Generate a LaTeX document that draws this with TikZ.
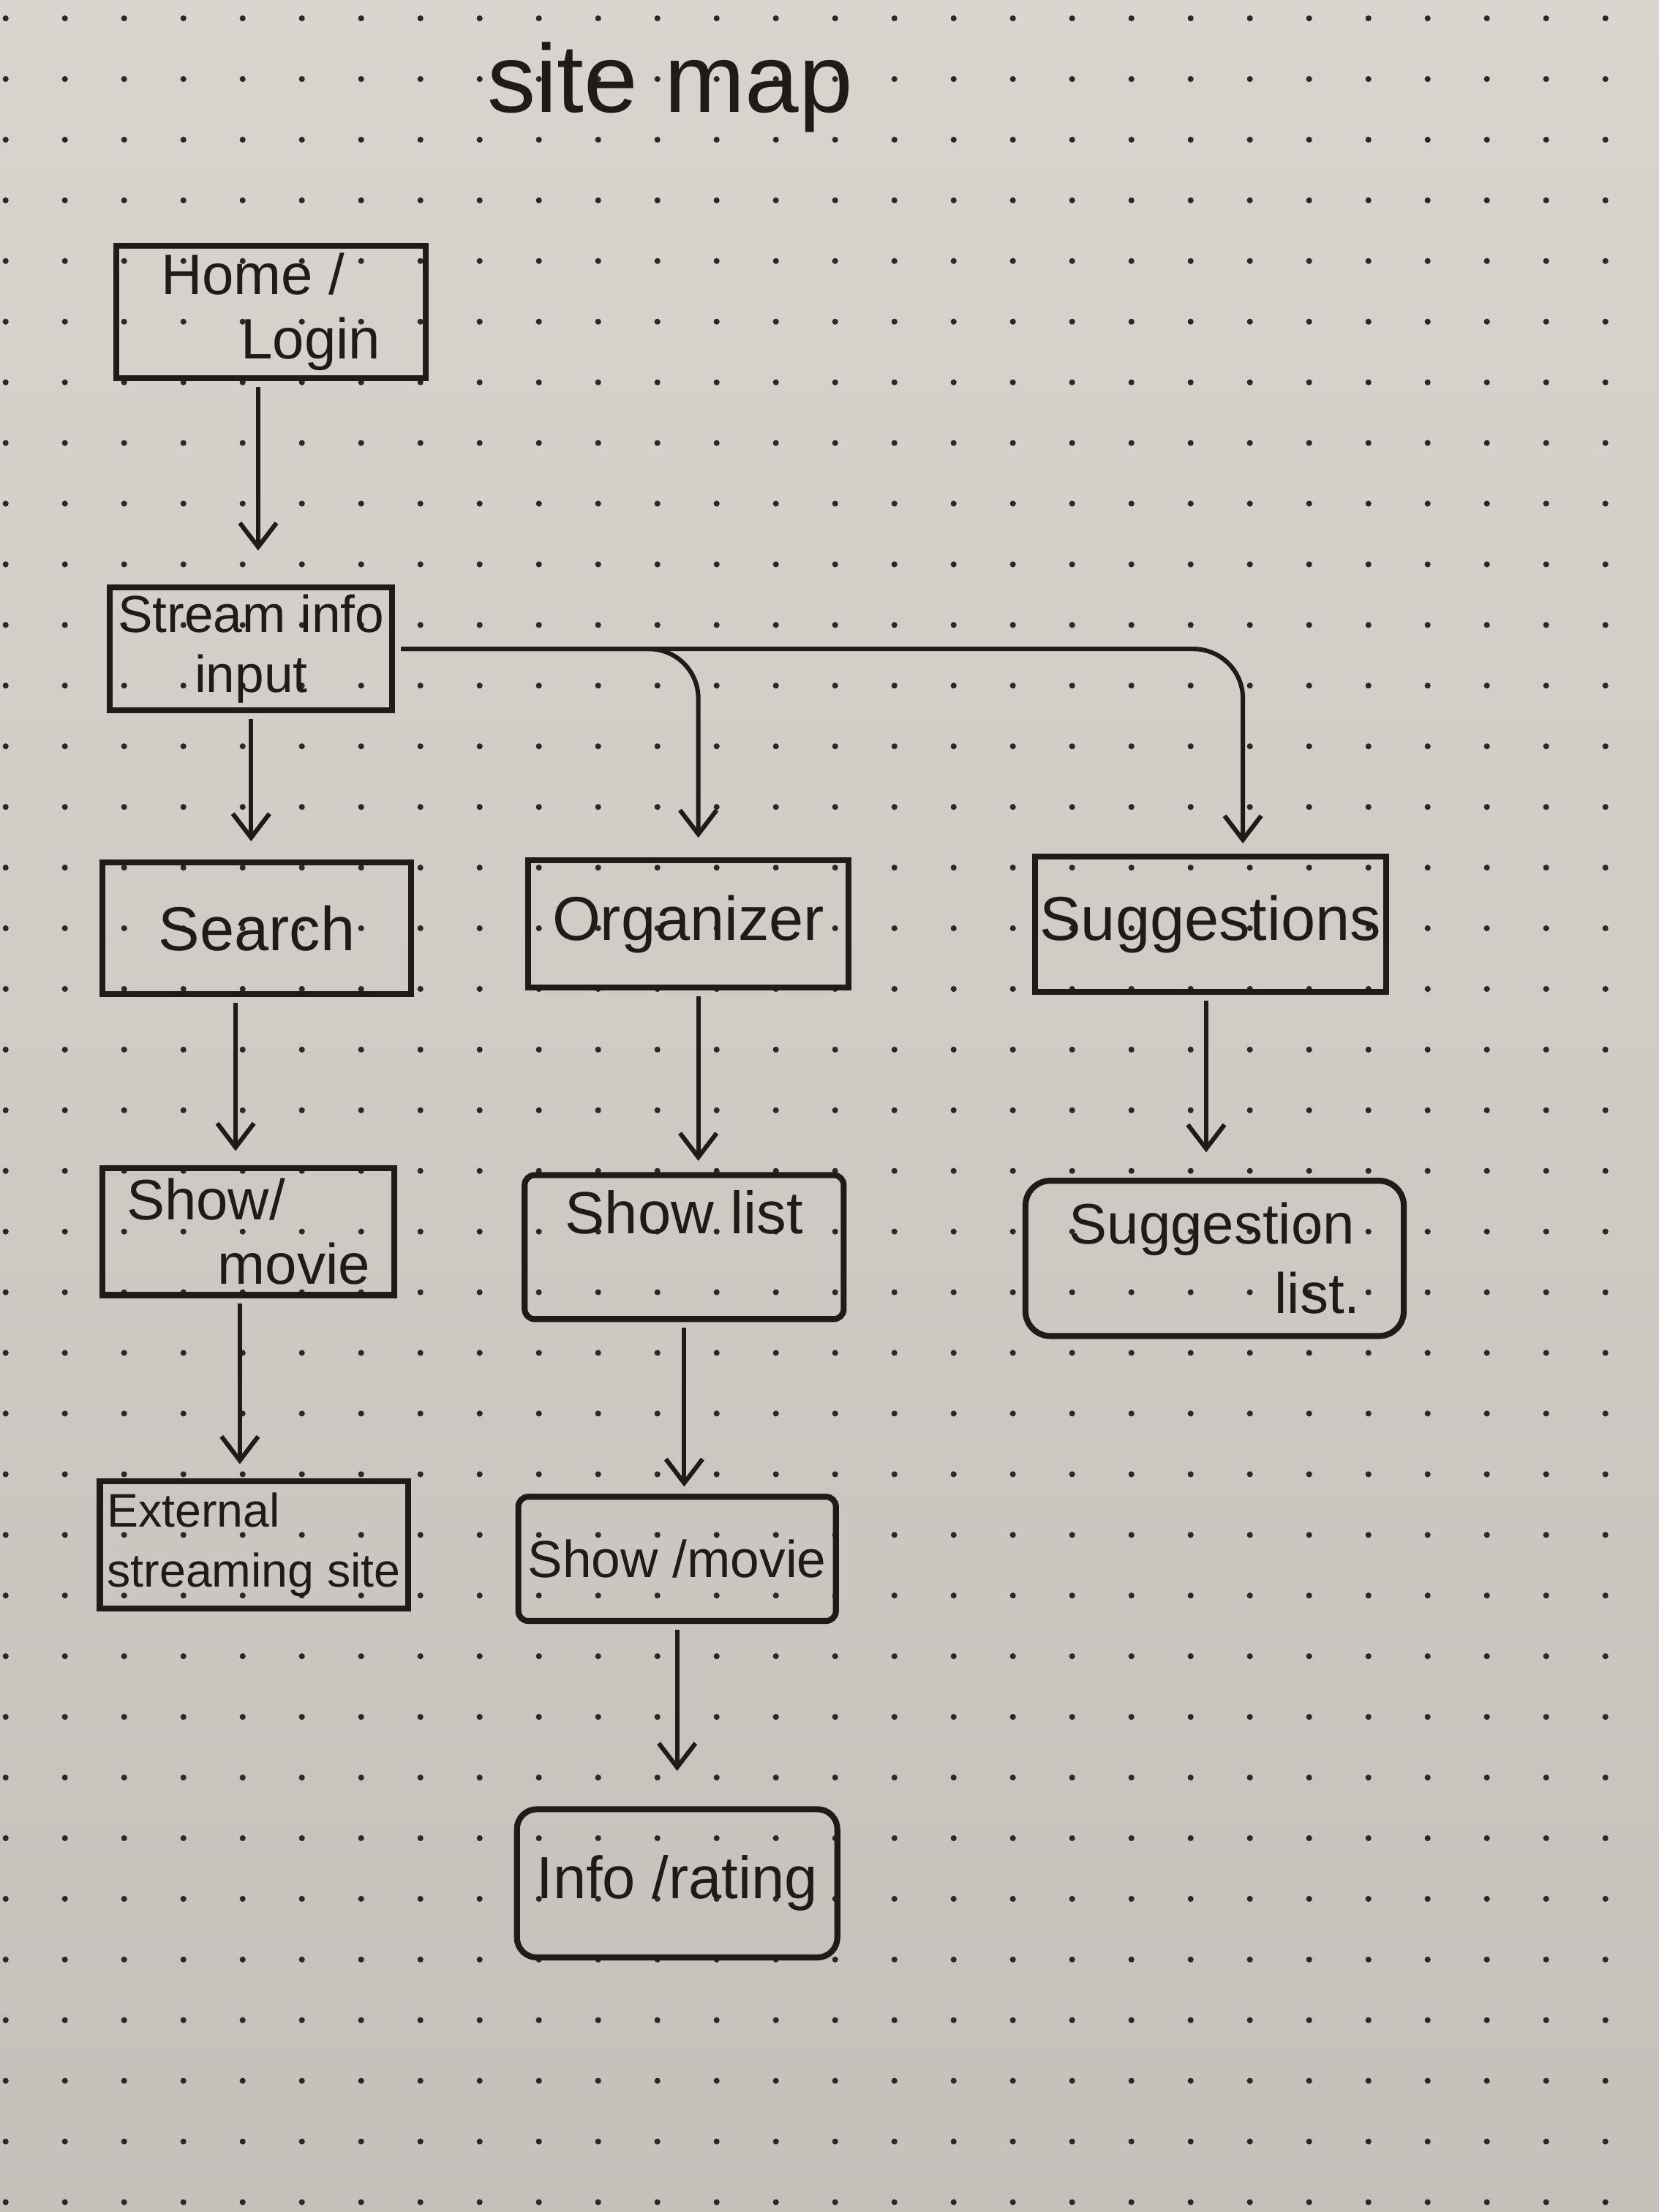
\documentclass[tikz,border=0pt]{standalone}
\usepackage{fontspec}
\setmainfont{Liberation Sans}
\usetikzlibrary{arrows.meta,calc}
\definecolor{ink}{RGB}{32,26,24}
\definecolor{paperlight}{RGB}{216,213,207}
\definecolor{paperdark}{RGB}{196,192,186}
\definecolor{dotgray}{RGB}{45,40,37}

\begin{document}
\begin{tikzpicture}[
    x=0.01cm, y=-0.01cm,
    >={Straight Barb[length=1.7mm,width=2.6mm]},
    box/.style={
        draw=ink,
        line width=1.2pt,
        text=ink,
        align=center,
        inner sep=1.5pt,
        font=\fontsize{12}{14}\selectfont
    },
    big/.style={font=\fontsize{12.5}{15}\selectfont},
    flow/.style={->, draw=ink, line width=0.9pt, shorten <=0.4mm, shorten >=1.2mm}
]

% Paper
\useasboundingbox (0,0) rectangle (1176,1568);
\shade[top color=paperlight, bottom color=paperdark] (0,0) rectangle (1176,1568);
\foreach \i in {0,...,27}
    \foreach \j in {0,...,36}
        \fill[dotgray] ({4+42*\i},{13+43*\j}) circle (0.6pt);

% Title
\node[text=ink, font=\fontsize{19.5}{24}\selectfont] (title) at (475,62) {site map};

% Nodes
\node[box, minimum width=2.19cm, minimum height=0.93cm, align=left, font=\fontsize{11.5}{13}\selectfont] (home) at (192,221) {Home /\\\hspace*{1.4em}Login};
\node[box, minimum width=2.0cm, minimum height=0.87cm, font=\fontsize{10.5}{12}\selectfont] (stream) at (178,460) {Stream info\\input};

\node[box, big, minimum width=2.19cm, minimum height=0.93cm] (search) at (182,658) {Search};
\node[box, big, minimum width=2.27cm, minimum height=0.9cm] (organizer) at (488,655) {Organizer};
\node[box, big, minimum width=2.43cm, minimum height=0.96cm, inner sep=1pt] (suggestions) at (858,655) {Suggestions};

\node[box, minimum width=2.07cm, minimum height=0.9cm, align=left, font=\fontsize{11.5}{13}\selectfont] (showA) at (176,873) {Show/\\\hspace*{1.6em}movie};
\node[box, minimum width=2.26cm, minimum height=1.02cm, text depth=0.5cm, rounded corners=2pt] (showlist) at (485,884) {Show list};
\node[box, minimum width=2.68cm, minimum height=1.1cm, align=left, rounded corners=5pt, font=\fontsize{11.5}{14}\selectfont] (suglist) at (861,892) {Suggestion\\\hspace*{3.6em}list.};

\node[box, minimum width=2.14cm, minimum height=0.9cm, align=left, font=\fontsize{9.5}{12}\selectfont] (external) at (180,1095) {External\\streaming site};
\node[box, minimum width=2.25cm, minimum height=0.88cm, rounded corners=2pt, font=\fontsize{10.5}{13}\selectfont] (showB) at (480,1105) {Show /movie};
\node[box, minimum width=2.27cm, minimum height=1.05cm, rounded corners=4pt] (info) at (480,1335) {Info /rating};

% Vertical flow
\draw[flow, shorten >=2.4mm] ([xshift=-0.9mm]home.south) -- ([xshift=-0.9mm]home.south |- stream.north);
\draw[flow, shorten >=1.3mm] (stream.south) -- (stream.south |- search.north);
\draw[flow, shorten >=1.0mm] ([xshift=-1.5mm]search.south) -- ([xshift=-1.5mm]search.south |- showA.north);
\draw[flow, shorten >=0.8mm] ([xshift=0.7mm]organizer.south) -- ([xshift=0.7mm]organizer.south |- showlist.north);
\draw[flow, shorten >=1.8mm] ([xshift=-0.3mm]suggestions.south) -- ([xshift=-0.3mm]suggestions.south |- suglist.north);
\draw[flow, shorten >=1.0mm] ([xshift=-0.6mm]showA.south) -- ([xshift=-0.6mm]showA.south |- external.north);
\draw[flow, shorten >=0.5mm] (showlist.south) -- (showlist.south |- showB.north);
\draw[flow, shorten >=2.5mm] (showB.south) -- (showB.south |- info.north);

% Branches to the right
\draw[flow, rounded corners=3.5mm, shorten >=1.4mm] (stream.east) -| ([xshift=0.7mm]organizer.north);
\draw[flow, rounded corners=3.5mm, shorten >=0.7mm] (stream.east) -| ([xshift=2.3mm]suggestions.north);

\end{tikzpicture}
\end{document}
